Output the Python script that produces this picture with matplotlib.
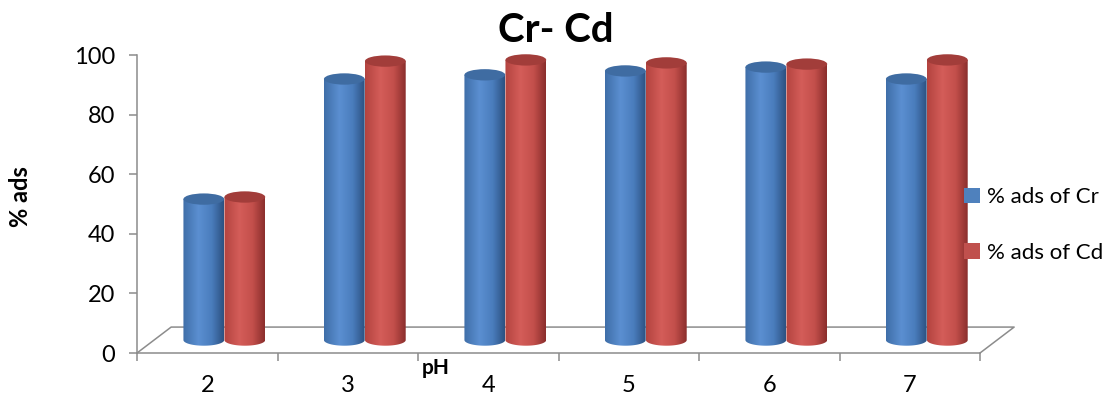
import matplotlib
matplotlib.use("Agg")

import matplotlib.pyplot as plt
import numpy as np
from matplotlib.colors import LinearSegmentedColormap
from matplotlib.patches import Ellipse, Patch, PathPatch
from matplotlib.path import Path

# pH values on the category axis
PH = ["2", "3", "4", "5", "6", "7"]

# adsorption percentages per pH
CR_ADS = [47.3, 87.6, 89.0, 90.3, 91.6, 87.6]
CD_ADS = [48.0, 93.6, 94.0, 93.0, 92.6, 94.0]

SERIES_LABELS = ["% ads of Cr", "% ads of Cd"]

FONT = "Lato"
GRAY = "#8c8c8c"

# depth of the 3-D floor, in category / value units
FLOOR_DX = 0.243
FLOOR_DY = 8.7
RADIUS = 0.145
CAP_RY = 1.9
BAR_SHIFT = 0.146

BLUE_CMAP = LinearSegmentedColormap.from_list(
    "blue_cyl", [(0, "#3f6ea8"), (0.38, "#5b8fd1"), (0.7, "#4a7dbd"), (1, "#2c5181")])
RED_CMAP = LinearSegmentedColormap.from_list(
    "red_cyl", [(0, "#b3433f"), (0.38, "#d45d59"), (0.7, "#c34f4b"), (1, "#8a2e2c")])
TOP_COLORS = ["#3f6ca2", "#a23d3a"]
LEGEND_COLORS = ["#4f81bd", "#c0504d"]


def draw_cylinder(ax, xc, base, height, cmap, top_color):
    x0, x1 = xc - RADIUS, xc + RADIUS
    top = base + height
    theta = np.linspace(np.pi, 2 * np.pi, 80)
    bx = xc + RADIUS * np.cos(theta)
    by = base + CAP_RY * np.sin(theta)
    verts = [(x0, top)] + list(zip(bx, by)) + [(x1, top), (x0, top)]
    body = PathPatch(Path(verts, closed=True), facecolor="none", edgecolor="none")
    ax.add_patch(body)

    grad = np.linspace(0, 1, 256)[None, :]
    im = ax.imshow(grad, cmap=cmap, aspect="auto", origin="lower",
                   extent=(x0, x1, base - CAP_RY, top),
                   interpolation="bilinear", zorder=2)
    im.set_clip_path(body)

    ax.add_patch(Ellipse((xc, top), 2 * RADIUS, 2 * CAP_RY, facecolor=top_color,
                         edgecolor="none", zorder=3, clip_on=False))


def main():
    plt.rcParams["font.family"] = [FONT, "DejaVu Sans"]

    fig = plt.figure(figsize=(11.14, 3.97), dpi=100)
    ax = fig.add_axes([137 / 1114, 44 / 397, (980 - 137) / 1114, (353 - 55) / 397])

    n = len(PH)
    # floor outline behind the bars
    ax.plot([0, FLOOR_DX, n + FLOOR_DX, n], [0, FLOOR_DY, FLOOR_DY, 0],
            color=GRAY, lw=1.1, clip_on=False, zorder=1)

    base = FLOOR_DY / 2
    centers = np.arange(n) + 0.5 + FLOOR_DX / 2
    for k, values in enumerate([CR_ADS, CD_ADS]):
        cmap = BLUE_CMAP if k == 0 else RED_CMAP
        offset = -BAR_SHIFT if k == 0 else BAR_SHIFT
        for xc, v in zip(centers + offset, values):
            draw_cylinder(ax, xc, base, v, cmap, TOP_COLORS[k])

    ax.set_xlim(0, n)
    ax.set_ylim(0, 100)

    ax.set_xticks(np.arange(n) + 0.5, labels=PH)
    ax.set_xticks(np.arange(n + 1), minor=True)
    ax.tick_params(axis="x", which="major", length=0, pad=16, labelsize=17)
    ax.tick_params(axis="x", which="minor", length=6, width=1.1, color=GRAY)
    ax.set_yticks(range(0, 101, 20))
    ax.tick_params(axis="y", length=6, width=1.1, color=GRAY, pad=10, labelsize=17)

    for side in ["top", "right"]:
        ax.spines[side].set_visible(False)
    for side in ["left", "bottom"]:
        ax.spines[side].set_color(GRAY)
        ax.spines[side].set_linewidth(1.1)

    handles = [Patch(facecolor=c, edgecolor="none") for c in LEGEND_COLORS]
    fig.legend(handles, SERIES_LABELS, loc="center left",
               bbox_to_anchor=(960 / 1114, 1 - 225 / 397), frameon=False,
               fontsize=16, handlelength=0.7, handleheight=0.7,
               handletextpad=0.3, labelspacing=1.6, borderpad=0.0,
               borderaxespad=0.2)

    fig.text(556 / 1114, 1 - 30 / 397, "Cr- Cd", ha="center", va="center",
             fontsize=29, fontweight="bold")
    fig.text(21 / 1114, 1 - 197 / 397, "% ads", ha="center", va="center",
             rotation=90, fontsize=17, fontweight="bold")
    fig.text(436 / 1114, 1 - 368 / 397, "pH", ha="center", va="center",
             fontsize=15, fontweight="bold")

    fig.savefig("out.png", dpi=100)
    plt.close(fig)


if __name__ == "__main__":
    main()
